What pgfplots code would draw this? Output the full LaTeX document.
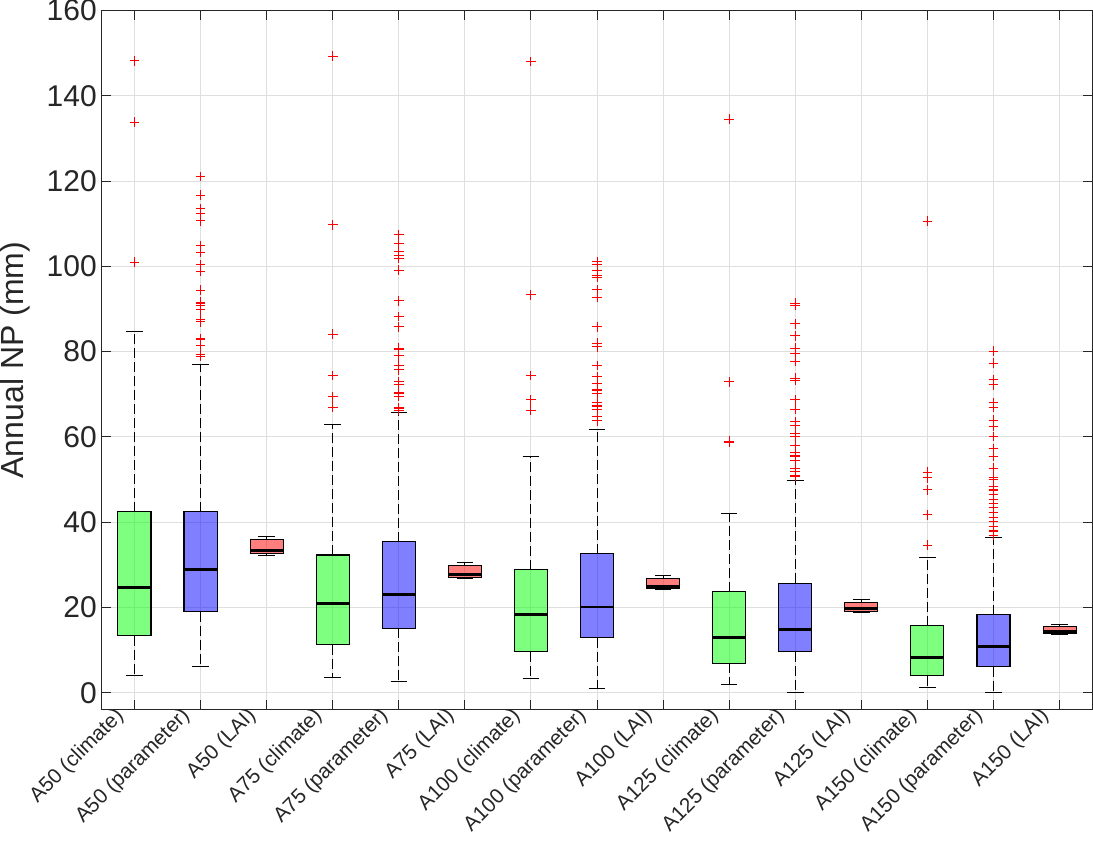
\documentclass[border=0pt]{standalone}
\usepackage{pgfplots}
\pgfplotsset{compat=1.18}
\usepgfplotslibrary{statistics}
\usepackage{fontspec}
\setmainfont{Liberation Sans}
\definecolor{axc}{RGB}{38,38,38}
\definecolor{gridc}{RGB}{223,223,223}
\pgfplotsset{
  common/.style={draw=black, line width=0.8pt, mark=+,
    mark options={draw=red, solid, line width=0.75pt, mark size=3.6pt}},
  clim/.style={common, boxplot/every box/.style={fill=green, fill opacity=0.5, draw=black, line width=0.8pt}},
  param/.style={common, boxplot/every box/.style={fill=blue, fill opacity=0.5, draw=black, line width=0.8pt}},
  lai/.style={common, boxplot/every box/.style={fill=red, fill opacity=0.5, draw=black, line width=0.8pt}},
}
\begin{document}
\begin{tikzpicture}
\begin{axis}[
  scale only axis, width=743.6pt, height=524.6pt,
  xmin=0.5, xmax=15.5, ymin=-4, ymax=160,
  xtick={1,...,15}, ytick={0,20,...,160},
  xticklabels={A50 (climate),A50 (parameter),A50 (LAI),A75 (climate),A75 (parameter),A75 (LAI),A100 (climate),A100 (parameter),A100 (LAI),A125 (climate),A125 (parameter),A125 (LAI),A150 (climate),A150 (parameter),A150 (LAI)},
  xticklabel style={xshift=-8pt, rotate=45, anchor=east, font=\fontsize{15.6}{18}\selectfont, text=axc},
  yticklabel style={font=\fontsize{22.5}{27}\selectfont, text=axc},
  /pgf/number format/assume math mode=true,
  ylabel={Annual NP (mm)},
  every axis y label/.style={at={(axis description cs:0,0.5)}, xshift=-64.9pt, rotate=90, anchor=center, font=\fontsize{24}{28}\selectfont, text=axc},
  tick align=inside, xtick pos=both, ytick pos=both,
  major tick length=7pt,
  every tick/.style={axc, line width=0.75pt},
  axis line style={axc, line width=0.75pt},
  grid=major, major grid style={gridc, line width=0.75pt},
  boxplot/draw direction=y,
  boxplot/box extend=0.5,
  boxplot/whisker extend=0.25,
  boxplot/every median/.style={black, line width=2.2pt},
  boxplot/every whisker/.style={black, line width=0.75pt},
  boxplot/draw/lower whisker/.code={%
    \draw[/pgfplots/boxplot/every whisker/.try, dash pattern=on 7.5pt off 3pt]
      (boxplot box cs:\pgfplotsboxplotvalue{lower quartile},0.5) -- (boxplot box cs:\pgfplotsboxplotvalue{lower whisker},0.5);
    \draw[/pgfplots/boxplot/every whisker/.try]
      (boxplot whisker cs:\pgfplotsboxplotvalue{lower whisker},0) -- (boxplot whisker cs:\pgfplotsboxplotvalue{lower whisker},1);
  },
  boxplot/draw/upper whisker/.code={%
    \draw[/pgfplots/boxplot/every whisker/.try, dash pattern=on 7.5pt off 3pt]
      (boxplot box cs:\pgfplotsboxplotvalue{upper quartile},0.5) -- (boxplot box cs:\pgfplotsboxplotvalue{upper whisker},0.5);
    \draw[/pgfplots/boxplot/every whisker/.try]
      (boxplot whisker cs:\pgfplotsboxplotvalue{upper whisker},0) -- (boxplot whisker cs:\pgfplotsboxplotvalue{upper whisker},1);
  },
]
% A50
\addplot[clim, boxplot prepared={draw position=1, median=24.6, upper quartile=42.4, lower quartile=13.4, upper whisker=84.7, lower whisker=4.0}]
  coordinates {(1,148.2) (1,133.8) (1,101.0)};
\addplot[param, boxplot prepared={draw position=2, median=28.8, upper quartile=42.4, lower quartile=19.0, upper whisker=76.9, lower whisker=6.1}]
  coordinates {(2,121.1) (2,116.7) (2,113.6) (2,112.5) (2,110.7) (2,104.9) (2,103.3) (2,100.4) (2,98.8) (2,94.4) (2,91.6) (2,91.3) (2,90.8) (2,89.8) (2,87.6) (2,87.0) (2,83.1) (2,82.8) (2,81.4) (2,79.3) (2,78.9)};
\addplot[lai, boxplot prepared={draw position=3, median=33.3, upper quartile=35.9, lower quartile=32.6, upper whisker=36.6, lower whisker=32.1}]
  coordinates {};
% A75
\addplot[clim, boxplot prepared={draw position=4, median=20.9, upper quartile=32.3, lower quartile=11.3, upper whisker=62.8, lower whisker=3.5}]
  coordinates {(4,149.3) (4,109.7) (4,84.1) (4,74.4) (4,69.4) (4,67.0)};
\addplot[param, boxplot prepared={draw position=5, median=23.0, upper quartile=35.4, lower quartile=15.1, upper whisker=65.7, lower whisker=2.6}]
  coordinates {(5,107.5) (5,105.3) (5,103.5) (5,102.5) (5,101.8) (5,99.1) (5,91.9) (5,88.2) (5,85.8) (5,80.8) (5,80.6) (5,79.0) (5,76.7) (5,75.7) (5,72.9) (5,72.2) (5,70.4) (5,70.1) (5,69.5) (5,66.8) (5,66.6) (5,66.3)};
\addplot[lai, boxplot prepared={draw position=6, median=27.7, upper quartile=29.8, lower quartile=27.1, upper whisker=30.5, lower whisker=26.9}]
  coordinates {};
% A100
\addplot[clim, boxplot prepared={draw position=7, median=18.3, upper quartile=28.8, lower quartile=9.6, upper whisker=55.5, lower whisker=3.3}]
  coordinates {(7,148.0) (7,93.3) (7,74.4) (7,68.7) (7,66.3)};
\addplot[param, boxplot prepared={draw position=8, median=20.1, upper quartile=32.6, lower quartile=12.9, upper whisker=61.7, lower whisker=0.9}]
  coordinates {(8,101.1) (8,100.5) (8,99.0) (8,97.8) (8,97.5) (8,94.6) (8,92.7) (8,85.8) (8,82.0) (8,81.1) (8,76.7) (8,74.2) (8,72.6) (8,71.2) (8,71.0) (8,70.1) (8,68.0) (8,67.4) (8,67.2) (8,66.4) (8,64.8) (8,63.8)};
\addplot[lai, boxplot prepared={draw position=9, median=25.0, upper quartile=26.9, lower quartile=24.4, upper whisker=27.4, lower whisker=24.1}]
  coordinates {};
% A125
\addplot[clim, boxplot prepared={draw position=10, median=13.0, upper quartile=23.7, lower quartile=6.9, upper whisker=42.0, lower whisker=1.9}]
  coordinates {(10,134.5) (10,72.9) (10,59.0) (10,58.8)};
\addplot[param, boxplot prepared={draw position=11, median=14.8, upper quartile=25.7, lower quartile=9.6, upper whisker=49.7, lower whisker=0.1}]
  coordinates {(11,91.4) (11,90.8) (11,86.5) (11,83.7) (11,80.8) (11,79.6) (11,77.8) (11,73.8) (11,73.2) (11,68.7) (11,66.5) (11,63.6) (11,62.6) (11,60.9) (11,60.2) (11,60.0) (11,58.1) (11,57.9) (11,56.4) (11,55.7) (11,55.5) (11,54.4) (11,52.7) (11,52.5) (11,51.8) (11,50.9) (11,50.7)};
\addplot[lai, boxplot prepared={draw position=12, median=19.7, upper quartile=21.2, lower quartile=19.1, upper whisker=21.8, lower whisker=18.9}]
  coordinates {};
% A150
\addplot[clim, boxplot prepared={draw position=13, median=8.2, upper quartile=15.7, lower quartile=4.0, upper whisker=31.6, lower whisker=1.2}]
  coordinates {(13,110.6) (13,51.7) (13,50.4) (13,47.6) (13,41.7) (13,34.6)};
\addplot[param, boxplot prepared={draw position=14, median=10.9, upper quartile=18.3, lower quartile=6.1, upper whisker=36.3, lower whisker=0.1}]
  coordinates {(14,80.1) (14,77.3) (14,73.4) (14,72.2) (14,68.1) (14,67.0) (14,63.9) (14,62.5) (14,60.1) (14,57.3) (14,55.4) (14,52.7) (14,50.4) (14,50.0) (14,48.4) (14,47.6) (14,47.4) (14,46.5) (14,45.3) (14,44.4) (14,43.4) (14,42.2) (14,41.0) (14,40.1) (14,39.0) (14,38.1) (14,37.9) (14,36.9)};
\addplot[lai, boxplot prepared={draw position=15, median=14.3, upper quartile=15.5, lower quartile=13.8, upper whisker=15.9, lower whisker=13.7}]
  coordinates {};
\end{axis}
\pgfresetboundingbox
\path[use as bounding box] (-76.1pt,-108pt) rectangle (743.9pt,532.5pt);
\end{tikzpicture}
\end{document}
